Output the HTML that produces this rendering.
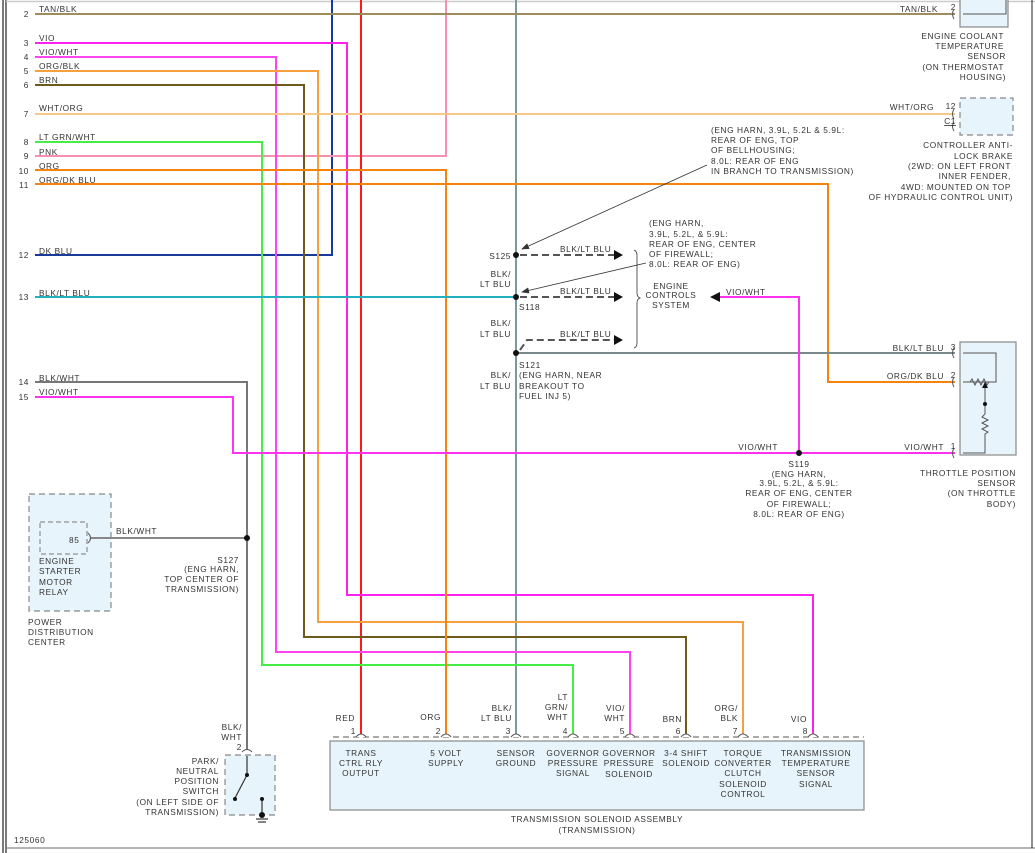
<!DOCTYPE html>
<html><head><meta charset="utf-8"><style>
html,body{margin:0;padding:0;background:#fff}
svg{display:block}
text{font-family:"Liberation Sans",sans-serif;font-size:8.3px;fill:#333;letter-spacing:0.6px}
</style></head><body>
<svg width="1035" height="853" viewBox="0 0 1035 853" xmlns="http://www.w3.org/2000/svg">
<defs>
<marker id="sa" markerWidth="8" markerHeight="8" refX="7" refY="4" orient="auto" markerUnits="userSpaceOnUse"><path d="M0,1 L8,4 L0,7 z" fill="#333"/></marker>
</defs>
<line x1="3" y1="0" x2="3" y2="853" stroke="#222" stroke-width="1.2"/>
<line x1="6" y1="0" x2="6" y2="853" stroke="#222" stroke-width="1.2"/>
<line x1="6" y1="1.5" x2="1035" y2="1.5" stroke="#ccc" stroke-width="1.5"/>
<line x1="6" y1="848" x2="1035" y2="848" stroke="#888" stroke-width="1.2"/>
<line x1="1032" y1="0" x2="1032" y2="848" stroke="#222" stroke-width="1"/>

<rect x="330" y="741" width="534" height="69" fill="#e8f4fb" stroke="#888" stroke-width="1.2"/>
<rect x="960" y="342" width="56" height="113" fill="#e8f4fb" stroke="#888" stroke-width="1.2"/>
<rect x="960" y="-2" width="48" height="29" fill="#e8f4fb" stroke="#888" stroke-width="1.2"/>
<rect x="960" y="98" width="53" height="37" fill="#e8f4fb" stroke="#888" stroke-width="1.2" stroke-dasharray="6,4"/>
<rect x="29" y="494" width="82" height="117" fill="#e8f4fb" stroke="#888" stroke-width="1.2" stroke-dasharray="6,4"/>
<rect x="40" y="522" width="47" height="32" fill="none" stroke="#777" stroke-width="1" stroke-dasharray="5,3"/>
<rect x="225" y="755" width="50" height="60" fill="#e8f4fb" stroke="#888" stroke-width="1.2" stroke-dasharray="6,4"/>

<g fill="none" stroke-width="2">
<polyline points="332,0 332,255 35,255" stroke="#1a3a9a"/>
<polyline points="446,0 446,156 35,156" stroke="#f78fb0"/>
<line x1="361" y1="0" x2="361" y2="735" stroke="#ff1a1a"/>
<line x1="516" y1="0" x2="516" y2="735" stroke="#7a9a9a"/>
<line x1="35" y1="14" x2="955" y2="14" stroke="#a08c5a"/>
<polyline points="35,43 347,43 347,595 813,595 813,735" stroke="#ff22ee"/>
<polyline points="35,57 276,57 276,652 630,652 630,735" stroke="#ff44ee"/>
<polyline points="35,71 318,71 318,622 743,622 743,735" stroke="#f7a040"/>
<polyline points="35,85 304,85 304,637 686,637 686,735" stroke="#6e5a1a"/>
<line x1="35" y1="114" x2="955" y2="114" stroke="#f8c888"/>
<polyline points="35,142 262,142 262,665 573,665 573,735" stroke="#44ee44"/>
<polyline points="35,170 446,170 446,735" stroke="#f7830f"/>
<polyline points="35,184 828,184 828,382 955,382" stroke="#f7830f"/>
<line x1="35" y1="297" x2="516" y2="297" stroke="#20b0c0"/>
<line x1="516" y1="353" x2="955" y2="353" stroke="#7a8a8a"/>
<polyline points="35,382 247,382 247,750" stroke="#777"/>
<line x1="90" y1="538" x2="247" y2="538" stroke="#888"/>
<polyline points="35,397 233,397 233,453 955,453" stroke="#ff33ee"/>
<polyline points="799,453 799,297 719,297" stroke="#ff33ee"/>
</g>
<path d="M720,292 L710,297 L720,302 z" fill="#111"/>

<g stroke="#555" stroke-width="2" stroke-dasharray="7,4" fill="none">
<line x1="520" y1="255" x2="615" y2="255"/>
<line x1="520" y1="297" x2="615" y2="297"/>
<polyline points="520,350 527,340 615,340"/>
</g>
<g fill="#111">
<path d="M614,250 L623,255 L614,260z"/><path d="M614,292 L623,297 L614,302z"/><path d="M614,335 L623,340 L614,345z"/>
</g>
<path d="M634,250 Q637,251 637,256 L637,293 Q637,297 640,298 Q637,299 637,303 L637,343 Q637,347 634,348" fill="none" stroke="#333" stroke-width="0.8"/>
<line x1="707" y1="165" x2="522" y2="249" stroke="#333" stroke-width="0.8" marker-end="url(#sa)"/>
<line x1="646" y1="263" x2="522" y2="292" stroke="#333" stroke-width="0.8" marker-end="url(#sa)"/>

<g fill="#111">
<circle cx="516" cy="255" r="3"/><circle cx="516" cy="297" r="3"/><circle cx="516" cy="353" r="3"/>
<circle cx="247" cy="538" r="3"/><circle cx="799" cy="453" r="3"/>
</g>

<g fill="none" stroke="#555" stroke-width="1">
<path d="M954,9 Q951,14 954,19"/><path d="M954,109 Q951,114 954,119"/><path d="M954,122 Q951,126 954,131"/>
<path d="M954,348 Q951,353 954,358"/><path d="M954,377 Q951,382 954,387"/><path d="M954,448 Q951,453 954,458"/>
<path d="M88,533 Q93,538 88,543"/>
<path d="M242,752 Q247,747 252,752"/>
<polyline points="1006,0 1006,14 963,14"/>
<polyline points="963,353 996,353 996,382 963,382"/>
<path d="M963,382 L970,382 l2,-3 l3,6 l3,-6 l3,6 l3,-6 l3,6 l2,-3 L996,382"/>
<polyline points="985,382 985,404"/>
<path d="M985,414 l-3,3 l6,3 l-6,3 l6,3 l-6,3 l6,3 l-3,2 L985,453 L963,453"/>
<line x1="985" y1="404" x2="985" y2="414"/>
<line x1="333" y1="737" x2="864" y2="737" stroke-dasharray="6,4"/>
</g>
<circle cx="985" cy="404" r="2" fill="#111"/>
<path d="M982,388 L985,382 L988,388z" fill="#111"/>
<g fill="#fff" stroke="#555" stroke-width="1">
<path d="M356,737 Q361,731 366,737"/><path d="M441,737 Q446,731 451,737"/><path d="M511,737 Q516,731 521,737"/><path d="M568,737 Q573,731 578,737"/>
<path d="M625,737 Q630,731 635,737"/><path d="M681,737 Q686,731 691,737"/><path d="M738,737 Q743,731 748,737"/><path d="M808,737 Q813,731 818,737"/>
</g>
<g stroke="#333" stroke-width="1.2" fill="none">
<line x1="247" y1="756" x2="247" y2="775"/><line x1="247" y1="775" x2="235" y2="798"/>
<line x1="262" y1="799" x2="262" y2="815"/>
<line x1="256" y1="819" x2="268" y2="819"/><line x1="258" y1="822" x2="266" y2="822"/>
</g>
<g fill="#111"><circle cx="247" cy="775" r="2"/><circle cx="235" cy="799" r="2"/><circle cx="262" cy="799" r="2"/><circle cx="262" cy="815" r="3"/></g>

<g text-anchor="end">
<text x="29" y="17">2</text><text x="29" y="46">3</text><text x="29" y="60">4</text><text x="29" y="74">5</text><text x="29" y="88">6</text>
<text x="29" y="117">7</text><text x="29" y="145">8</text><text x="29" y="159">9</text><text x="29" y="174">10</text><text x="29" y="188">11</text>
<text x="29" y="258">12</text><text x="29" y="300">13</text><text x="29" y="385">14</text><text x="29" y="400">15</text>
</g>
<g>
<text x="39" y="12">TAN/BLK</text><text x="39" y="41">VIO</text><text x="39" y="55">VIO/WHT</text><text x="39" y="69">ORG/BLK</text><text x="39" y="83">BRN</text>
<text x="39" y="111">WHT/ORG</text><text x="39" y="140">LT GRN/WHT</text><text x="39" y="155">PNK</text><text x="39" y="169">ORG</text><text x="39" y="183">ORG/DK BLU</text>
<text x="39" y="254">DK BLU</text><text x="39" y="296">BLK/LT BLU</text><text x="39" y="381">BLK/WHT</text><text x="39" y="395">VIO/WHT</text>
<text x="14" y="843">125060</text>
</g>

<g text-anchor="end">
<text x="938" y="12">TAN/BLK</text><text x="956" y="10" font-size="7">2</text>
<text x="934" y="110">WHT/ORG</text><text x="956" y="109" font-size="7">12</text><text x="956" y="124" font-size="7" text-decoration="underline">C1</text>
<text x="1004" y="39">ENGINE COOLANT</text><text x="1004" y="49">TEMPERATURE</text><text x="1006" y="59">SENSOR</text><text x="1004" y="70">(ON THERMOSTAT</text><text x="1006" y="80">HOUSING)</text>
<text x="1013" y="148">CONTROLLER ANTI-</text><text x="1013" y="159">LOCK BRAKE</text><text x="1011" y="169">(2WD: ON LEFT FRONT</text><text x="1011" y="179">INNER FENDER,</text><text x="1011" y="190">4WD: MOUNTED ON TOP</text><text x="1013" y="200">OF HYDRAULIC CONTROL UNIT)</text>
<text x="944" y="351">BLK/LT BLU</text><text x="956" y="350" font-size="7">3</text>
<text x="944" y="379">ORG/DK BLU</text><text x="956" y="378" font-size="7">2</text>
<text x="944" y="450">VIO/WHT</text><text x="956" y="449" font-size="7">1</text>
<text x="1016" y="476">THROTTLE POSITION</text><text x="1016" y="486">SENSOR</text><text x="1016" y="496">(ON THROTTLE</text><text x="1016" y="507">BODY)</text>
<text x="778" y="450">VIO/WHT</text>
<text x="511" y="259">S125</text>
<text x="511" y="277">BLK/</text><text x="511" y="287">LT BLU</text>
<text x="511" y="326">BLK/</text><text x="511" y="337">LT BLU</text>
<text x="511" y="378">BLK/</text><text x="511" y="389">LT BLU</text>
<text x="239" y="563">S127</text>
<text x="239" y="572">(ENG HARN,</text><text x="239" y="582">TOP CENTER OF</text><text x="239" y="592">TRANSMISSION)</text>
<text x="219" y="764">PARK/</text><text x="219" y="774">NEUTRAL</text><text x="219" y="784">POSITION</text><text x="219" y="794">SWITCH</text><text x="219" y="805">(ON LEFT SIDE OF</text><text x="219" y="815">TRANSMISSION)</text>
<text x="242" y="730">BLK/</text><text x="242" y="740">WHT</text><text x="242" y="750" font-size="7">2</text>
</g>
<g>
<text x="711" y="133">(ENG HARN, 3.9L, 5.2L &amp; 5.9L:</text><text x="711" y="143">REAR OF ENG, TOP</text><text x="711" y="153">OF BELLHOUSING;</text><text x="711" y="164">8.0L: REAR OF ENG</text><text x="711" y="174">IN BRANCH TO TRANSMISSION)</text>
<text x="649" y="226">(ENG HARN,</text><text x="649" y="237">3.9L, 5.2L, &amp; 5.9L:</text><text x="649" y="247">REAR OF ENG, CENTER</text><text x="649" y="257">OF FIREWALL;</text><text x="649" y="267">8.0L: REAR OF ENG)</text>
<text x="560" y="252">BLK/LT BLU</text><text x="560" y="294">BLK/LT BLU</text><text x="560" y="337">BLK/LT BLU</text>
<text x="726" y="295">VIO/WHT</text>
<text x="519" y="310">S118</text>
<text x="519" y="368">S121</text><text x="519" y="378">(ENG HARN, NEAR</text><text x="519" y="389">BREAKOUT TO</text><text x="519" y="399">FUEL INJ 5)</text>
<text x="116" y="534">BLK/WHT</text>
<text x="69" y="543" font-size="7">85</text>
<text x="39" y="564">ENGINE</text><text x="39" y="574">STARTER</text><text x="39" y="585">MOTOR</text><text x="39" y="595">RELAY</text>
<text x="28" y="625">POWER</text><text x="28" y="635">DISTRIBUTION</text><text x="28" y="645">CENTER</text>
</g>
<g text-anchor="middle">
<text x="671" y="289">ENGINE</text><text x="671" y="298">CONTROLS</text><text x="671" y="308">SYSTEM</text>
<text x="799" y="467">S119</text><text x="799" y="477">(ENG HARN,</text><text x="799" y="486">3.9L, 5.2L, &amp; 5.9L:</text><text x="799" y="496">REAR OF ENG, CENTER</text><text x="799" y="507">OF FIREWALL;</text><text x="799" y="517">8.0L: REAR OF ENG)</text>
<text x="597" y="822">TRANSMISSION SOLENOID ASSEMBLY</text><text x="597" y="833">(TRANSMISSION)</text>
<text x="361" y="756">TRANS</text><text x="361" y="766">CTRL RLY</text><text x="361" y="776">OUTPUT</text>
<text x="446" y="756">5 VOLT</text><text x="446" y="766">SUPPLY</text>
<text x="516" y="756">SENSOR</text><text x="516" y="766">GROUND</text>
<text x="573" y="756">GOVERNOR</text><text x="573" y="766">PRESSURE</text><text x="573" y="776">SIGNAL</text>
<text x="629" y="756">GOVERNOR</text><text x="629" y="766">PRESSURE</text><text x="629" y="777">SOLENOID</text>
<text x="686" y="756">3-4 SHIFT</text><text x="686" y="766">SOLENOID</text>
<text x="743" y="756">TORQUE</text><text x="743" y="766">CONVERTER</text><text x="743" y="776">CLUTCH</text><text x="743" y="787">SOLENOID</text><text x="743" y="797">CONTROL</text>
<text x="816" y="756">TRANSMISSION</text><text x="816" y="766">TEMPERATURE</text><text x="816" y="776">SENSOR</text><text x="816" y="787">SIGNAL</text>
</g>
<g text-anchor="end">
<text x="355" y="721">RED</text><text x="441" y="720">ORG</text>
<text x="512" y="711">BLK/</text><text x="512" y="721">LT BLU</text>
<text x="568" y="700">LT</text><text x="568" y="710">GRN/</text><text x="568" y="720">WHT</text>
<text x="625" y="711">VIO/</text><text x="625" y="721">WHT</text>
<text x="682" y="722">BRN</text>
<text x="738" y="711">ORG/</text><text x="738" y="721">BLK</text>
<text x="807" y="722">VIO</text>
<g font-size="7"><text x="356" y="734">1</text><text x="441" y="734">2</text><text x="511" y="734">3</text><text x="568" y="734">4</text><text x="625" y="734">5</text><text x="681" y="734">6</text><text x="738" y="734">7</text><text x="808" y="734">8</text></g>
</g>
</svg>
</body></html>
